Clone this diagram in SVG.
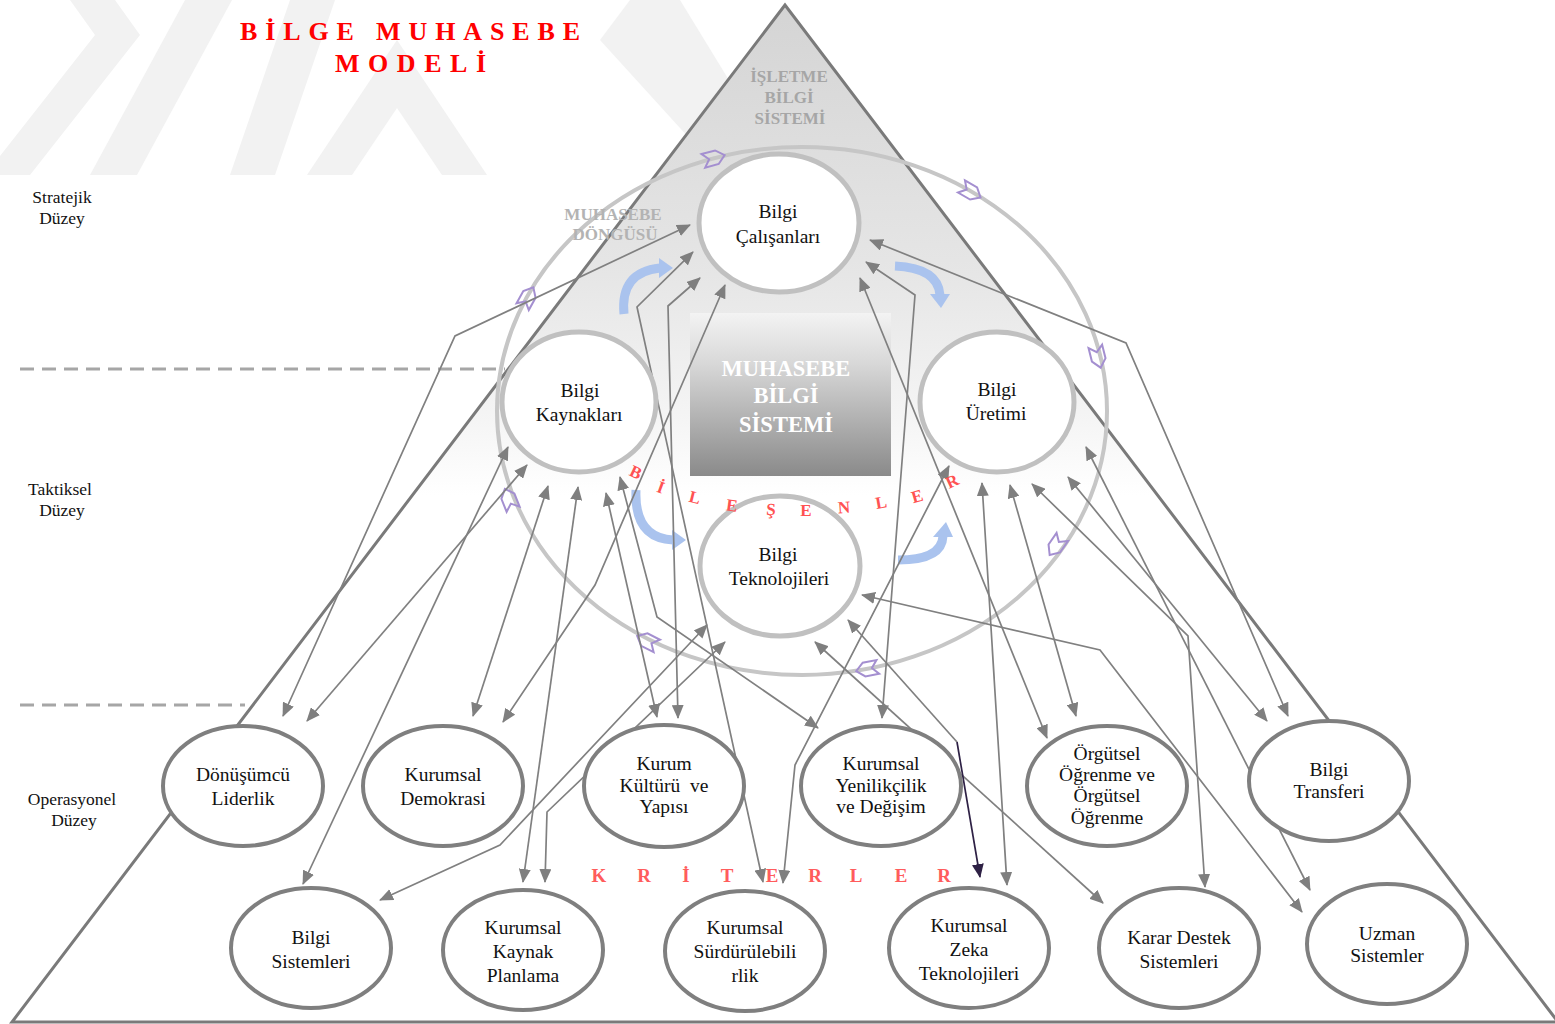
<svg xmlns="http://www.w3.org/2000/svg" width="1555" height="1024" viewBox="0 0 1555 1024">
<defs>
<style>
.nt{font-family:"Liberation Serif","Times New Roman",serif;font-size:19.5px;fill:#111;text-anchor:middle;}
.lvl{font-family:"Liberation Serif","Times New Roman",serif;font-size:17.5px;fill:#111;text-anchor:middle;}
.ring{fill:#fff;stroke:#c0c0c0;stroke-width:5;}
.node{fill:#fff;stroke:#7f7f7f;stroke-width:4;}
.con{fill:none;stroke:#808080;stroke-width:1.7;marker-start:url(#ah);marker-end:url(#ah);}
.chev{fill:none;stroke:#a48fd0;stroke-width:2;}
.blue{fill:none;stroke:#aac3ee;stroke-width:9;}
.bl{font-family:"Liberation Serif","Times New Roman",serif;font-weight:bold;font-size:17px;fill:#ff5252;text-anchor:middle;}
.kr{font-family:"Liberation Serif","Times New Roman",serif;font-weight:bold;font-size:19px;fill:#ff5c5c;text-anchor:middle;}
.gt{font-family:"Liberation Serif","Times New Roman",serif;font-weight:bold;text-anchor:middle;}
.wm{fill:#f2f2f2;}
</style>
<marker id="ah" viewBox="0 0 14 12" refX="13" refY="6" markerWidth="14" markerHeight="12" markerUnits="userSpaceOnUse" orient="auto-start-reverse"><path d="M0,0 L14,6 L0,12 z" fill="#7f7f7f"/></marker>
<marker id="ahd" viewBox="0 0 14 12" refX="13" refY="6" markerWidth="14" markerHeight="12" markerUnits="userSpaceOnUse" orient="auto"><path d="M0,0 L14,6 L0,12 z" fill="#2e2145"/></marker>
<linearGradient id="pyr" gradientUnits="userSpaceOnUse" x1="0" y1="5" x2="0" y2="495"><stop offset="0" stop-color="#d4d4d4"/><stop offset="0.55" stop-color="#e6e6e6"/><stop offset="0.85" stop-color="#f5f5f5"/><stop offset="1" stop-color="#ffffff"/></linearGradient>
<linearGradient id="box" x1="0" y1="0" x2="0" y2="1"><stop offset="0" stop-color="#f3f3f3"/><stop offset="0.3" stop-color="#d9d9d9"/><stop offset="1" stop-color="#8a8a8a"/></linearGradient>
<path id="chv" d="M-11,-7 L3,-7 L11,0 L3,7 L-11,7 L-5,0 Z"/>
</defs>
<rect width="1555" height="1024" fill="#fff"/>
<g id="watermark">
<polygon class="wm" points="70,0 115,0 140,35 30,175 -15,175 95,35"/>
<polygon class="wm" points="185,0 232,0 137,175 90,175"/>
<polygon class="wm" points="290,0 335,0 275,175 230,175"/>
<polygon class="wm" points="397,40 487,175 442,175 397,108 352,175 307,175"/>
<polygon class="wm" points="600,40 630,0 680,0 735,90 735,150 700,150"/>
</g>
<g id="pyramid">
<polygon points="785,5 12,1022 1558,1022" fill="url(#pyr)" stroke="#7a7a7a" stroke-width="3" stroke-linejoin="miter"/>
</g>
<g id="levels">
<line x1="20" y1="369" x2="505" y2="369" stroke="#a6a6a6" stroke-width="3" stroke-dasharray="14 8"/>
<line x1="20" y1="705" x2="245" y2="705" stroke="#a6a6a6" stroke-width="3" stroke-dasharray="14 8"/>
<text class="lvl" x="62" y="203">Stratejik</text>
<text class="lvl" x="62" y="224">Düzey</text>
<text class="lvl" x="60" y="495">Taktiksel</text>
<text class="lvl" x="62" y="516">Düzey</text>
<text class="lvl" x="72" y="805">Operasyonel</text>
<text class="lvl" x="74" y="826">Düzey</text>
</g>
<g id="title">
<text class="gt" x="240" y="40" font-size="26" fill="#ff0000" style="text-anchor:start" textLength="340" lengthAdjust="spacing">BİLGE MUHASEBE</text>
<text class="gt" x="335" y="72" font-size="26" fill="#ff0000" style="text-anchor:start" textLength="151" lengthAdjust="spacing">MODELİ</text>
<text class="gt" x="789" y="82" font-size="17" fill="#a6a6a6">İŞLETME</text>
<text class="gt" x="789" y="103" font-size="17" fill="#a6a6a6">BİLGİ</text>
<text class="gt" x="790" y="124" font-size="17" fill="#a6a6a6">SİSTEMİ</text>
</g>
<g id="cycle">
<ellipse cx="802" cy="411" rx="305" ry="264" fill="none" stroke="#c6c6c6" stroke-width="4"/>
<text class="gt" x="613" y="220" font-size="17" fill="#b3b3b3">MUHASEBE</text>
<text class="gt" x="615" y="240" font-size="17" fill="#b3b3b3">DÖNGÜSÜ</text>
<use href="#chv" class="chev" transform="translate(714,158) rotate(-15)"/>
<use href="#chv" class="chev" transform="translate(971,192) rotate(30)"/>
<use href="#chv" class="chev" transform="translate(1098,357) rotate(76)"/>
<use href="#chv" class="chev" transform="translate(1056,546) rotate(125)"/>
<use href="#chv" class="chev" transform="translate(867,669) rotate(169)"/>
<use href="#chv" class="chev" transform="translate(647,641) rotate(207)"/>
<use href="#chv" class="chev" transform="translate(509,499) rotate(248)"/>
<use href="#chv" class="chev" transform="translate(528,297) rotate(-61)"/>
</g>
<g id="center-box">
<rect x="690" y="313" width="201" height="163" fill="url(#box)"/>
<text class="gt" x="786" y="376" font-size="22.5" fill="#ffffff">MUHASEBE</text>
<text class="gt" x="786" y="403" font-size="22.5" fill="#ffffff">BİLGİ</text>
<text class="gt" x="786" y="432" font-size="22.5" fill="#ffffff">SİSTEMİ</text>
</g>
<g id="flow-arrows">
<path class="blue" d="M624,314 Q620,272 660,268"/>
<polygon points="659,258 673,268 659,278" fill="#aac3ee"/>
<path class="blue" d="M895,266 Q938,268 940,295"/>
<polygon points="930,294 950,294 941,308" fill="#aac3ee"/>
<path class="blue" d="M636,490 Q634,538 673,540"/>
<polygon points="672,530 686,540 672,550" fill="#aac3ee"/>
<path class="blue" d="M898,560 Q942,560 943,536"/>
<polygon points="933,537 953,537 946,522" fill="#aac3ee"/>
</g>
<g id="kriterler">
<text class="kr" x="599" y="882">K</text>
<text class="kr" x="644" y="882">R</text>
<text class="kr" x="686" y="882">İ</text>
<text class="kr" x="727" y="882">T</text>
<text class="kr" x="772" y="882">E</text>
<text class="kr" x="815" y="882">R</text>
<text class="kr" x="856" y="882">L</text>
<text class="kr" x="901" y="882">E</text>
<text class="kr" x="944" y="882">R</text>
</g>
<g id="connectors">
<path class="con" d="M690,225 L455,336 L283,716"/>
<path class="con" d="M693,252 L637,307 L763,882"/>
<path class="con" d="M700,278 L668,306 L678,718"/>
<path class="con" d="M725,285 L595,585 L503,722"/>
<path class="con" d="M870,240 L1126,343 L1288,716"/>
<path class="con" d="M866,262 L915,295 L882,718"/>
<path class="con" d="M860,278 L1047,738"/>
<path class="con" d="M508,447 L303,884"/>
<path class="con" d="M527,465 L307,721"/>
<path class="con" d="M548,486 L473,716"/>
<path class="con" d="M578,487 L523,882"/>
<path class="con" d="M606,493 L657,717"/>
<path class="con" d="M620,477 L657,617 L818,728"/>
<path class="con" d="M707,625 L500,845 L380,900"/>
<path class="con" d="M725,642 L547,812 L545,882"/>
<path class="con" d="M862,595 L1100,650 L1302,912"/>
<path class="con" d="M815,642 L1103,903"/>
<path d="M848,620 L957,742" fill="none" stroke="#808080" stroke-width="1.7" marker-start="url(#ah)"/>
<path d="M957,742 L980,877" fill="none" stroke="#2e2145" stroke-width="1.7" marker-end="url(#ahd)"/>
<path class="con" d="M949,466 L795,765 L783,883"/>
<path class="con" d="M982,483 L1007,885"/>
<path class="con" d="M1010,485 L1076,716"/>
<path class="con" d="M1032,484 L1188,636 L1205,887"/>
<path class="con" d="M1068,477 L1267,721"/>
<path class="con" d="M1086,447 L1310,890"/>
</g>
<g id="n-bilgi-calisanlari"><ellipse class="ring" cx="779" cy="223" rx="80" ry="69"/><text class="nt" x="778" y="218">Bilgi</text><text class="nt" x="778" y="243">Çalışanları</text></g>
<g id="n-bilgi-kaynaklari"><ellipse class="ring" cx="579" cy="402" rx="77" ry="70"/><text class="nt" x="580" y="397">Bilgi</text><text class="nt" x="579" y="421">Kaynakları</text></g>
<g id="n-bilgi-uretimi"><ellipse class="ring" cx="997" cy="402" rx="77" ry="70"/><text class="nt" x="997" y="396">Bilgi</text><text class="nt" x="996" y="420">Üretimi</text></g>
<g id="n-bilgi-teknolojileri"><ellipse class="ring" cx="780" cy="566" rx="80" ry="70"/><text class="nt" x="778" y="561">Bilgi</text><text class="nt" x="779" y="585">Teknolojileri</text></g>
<g id="n-donusumcu-liderlik"><ellipse class="node" cx="243" cy="786" rx="80" ry="60"/><text class="nt" x="243" y="781">Dönüşümcü</text><text class="nt" x="243" y="805">Liderlik</text></g>
<g id="n-kurumsal-demokrasi"><ellipse class="node" cx="443" cy="786" rx="80" ry="60"/><text class="nt" x="443" y="781">Kurumsal</text><text class="nt" x="443" y="805">Demokrasi</text></g>
<g id="n-kurum-kulturu"><ellipse class="node" cx="664" cy="786" rx="80" ry="61"/><text class="nt" x="664" y="770">Kurum</text><text class="nt" x="664" y="792" xml:space="preserve">Kültürü  ve</text><text class="nt" x="664" y="813">Yapısı</text></g>
<g id="n-kurumsal-yenilikcilik"><ellipse class="node" cx="881" cy="786" rx="80" ry="60"/><text class="nt" x="881" y="770">Kurumsal</text><text class="nt" x="881" y="792">Yenilikçilik</text><text class="nt" x="881" y="813">ve Değişim</text></g>
<g id="n-orgutsel-ogrenme"><ellipse class="node" cx="1107" cy="786" rx="80" ry="60"/><text class="nt" x="1107" y="760">Örgütsel</text><text class="nt" x="1107" y="781">Öğrenme ve</text><text class="nt" x="1107" y="802">Örgütsel</text><text class="nt" x="1107" y="824">Öğrenme</text></g>
<g id="n-bilgi-transferi"><ellipse class="node" cx="1329" cy="781" rx="80" ry="60"/><text class="nt" x="1329" y="776">Bilgi</text><text class="nt" x="1329" y="798">Transferi</text></g>
<g id="n-bilgi-sistemleri"><ellipse class="node" cx="311" cy="948" rx="80" ry="60"/><text class="nt" x="311" y="944">Bilgi</text><text class="nt" x="311" y="968">Sistemleri</text></g>
<g id="n-kurumsal-kaynak-planlama"><ellipse class="node" cx="523" cy="950" rx="80" ry="60"/><text class="nt" x="523" y="934">Kurumsal</text><text class="nt" x="523" y="958">Kaynak</text><text class="nt" x="523" y="982">Planlama</text></g>
<g id="n-kurumsal-surdurulebilirlik"><ellipse class="node" cx="745" cy="951" rx="80" ry="60"/><text class="nt" x="745" y="934">Kurumsal</text><text class="nt" x="745" y="958">Sürdürülebili</text><text class="nt" x="745" y="982">rlik</text></g>
<g id="n-kurumsal-zeka"><ellipse class="node" cx="969" cy="948" rx="80" ry="60"/><text class="nt" x="969" y="932">Kurumsal</text><text class="nt" x="969" y="956">Zeka</text><text class="nt" x="969" y="980">Teknolojileri</text></g>
<g id="n-karar-destek"><ellipse class="node" cx="1179" cy="948" rx="80" ry="60"/><text class="nt" x="1179" y="944">Karar Destek</text><text class="nt" x="1179" y="968">Sistemleri</text></g>
<g id="n-uzman-sistemler"><ellipse class="node" cx="1387" cy="944" rx="80" ry="60"/><text class="nt" x="1387" y="940">Uzman</text><text class="nt" x="1387" y="962">Sistemler</text></g>
<g id="bilesenler">
<text class="bl" transform="translate(636,472) rotate(25)" x="0" y="6">B</text>
<text class="bl" transform="translate(661,487) rotate(20)" x="0" y="6">İ</text>
<text class="bl" transform="translate(695,497) rotate(14)" x="0" y="6">L</text>
<text class="bl" transform="translate(732,505) rotate(8)" x="0" y="6">E</text>
<text class="bl" transform="translate(771,509) rotate(3)" x="0" y="6">Ş</text>
<text class="bl" transform="translate(806,510)" x="0" y="6">E</text>
<text class="bl" transform="translate(844,507) rotate(-4)" x="0" y="6">N</text>
<text class="bl" transform="translate(881,502) rotate(-10)" x="0" y="6">L</text>
<text class="bl" transform="translate(917,496) rotate(-16)" x="0" y="6">E</text>
<text class="bl" transform="translate(952,481) rotate(-25)" x="0" y="6">R</text>
</g>
</svg>
